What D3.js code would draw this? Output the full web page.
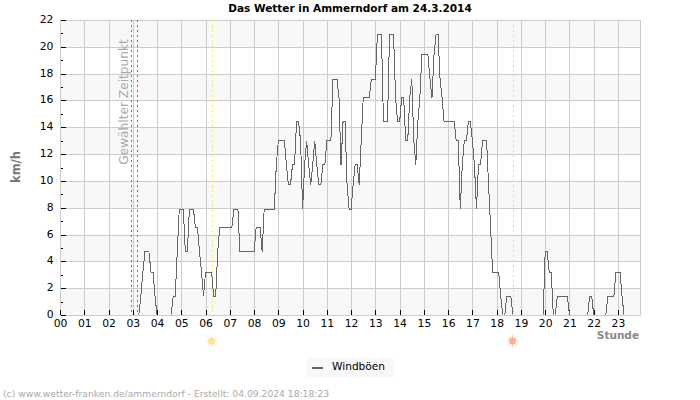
<!DOCTYPE html>
<html><head><meta charset="utf-8">
<script src="https://cdn.jsdelivr.net/npm/d3@7"></script>
<style>html,body{margin:0;background:#fff}svg{display:block}text{font-family:"DejaVu Sans",sans-serif}</style>
</head><body><div id="c"></div>
<script>
const title = "Das Wetter in Ammerndorf am 24.3.2014";
const footer = "(c) www.wetter-franken.de/ammerndorf - Erstellt: 04.09.2024 18:18:23";
const seriesName = "Windböen";
const yLabel = "km/h", xLabel = "Stunde", markerLabel = "Gewählter Zeitpunkt";
const hourLabels = ["00","01","02","03","04","05","06","07","08","09","10","11","12","13","14","15","16","17","18","19","20","21","22","23"];
const yTicks = [0,2,4,6,8,10,12,14,16,18,20,22];
const selectedHours = [2.92, 3.17];
const sunrise = 6.25, sunset = 18.69;
// gust values in 5 minute steps, one row per hour
const h00=[0,0,0,0,0,0,0,0,0,0,0,0], h01=[0,0,0,0,0,0,0,0,0,0,0,0], h02=[0,0,0,0,0,0,0,0,0,0,0,0];
const h03=[0,0,0,0,1.4,3.2,4.7,4.7,4.7,3.2,3.2,1.4];
const h04=[0,0,0,0,0,0,0,0,1.4,1.4,4.7,7.9];
const h05=[7.9,7.9,4.7,4.7,7.9,7.9,7.9,6.5,6.5,4.7,3.2,1.4];
const h06=[3.2,3.2,3.2,3.2,1.4,1.4,4.7,6.5,6.5,6.5,6.5,6.5];
const h07=[6.5,6.5,7.9,7.9,7.9,4.7,4.7,4.7,4.7,4.7,4.7,4.7];
const h08=[4.7,6.5,6.5,6.5,4.7,7.9,7.9,7.9,7.9,7.9,7.9,11.2];
const h09=[13,13,13,13,11.2,9.7,9.7,11.2,11.2,14.4,14.4,13];
const h10=[7.9,11.2,13,11.2,9.7,11.2,13,11.2,9.7,9.7,11.2,11.2];
const h11=[13,13,13,17.6,17.6,17.6,16.2,11.2,14.4,14.4,9.7,7.9];
const h12=[7.9,9.7,11.2,11.2,9.7,13,16.2,16.2,16.2,16.2,17.6,17.6];
const h13=[17.6,20.9,20.9,20.9,14.4,14.4,14.4,20.9,20.9,20.9,16.2,14.4];
const h14=[14.4,16.2,16.2,13,13,16.2,17.6,13,11.2,14.4,16.2,19.4];
const h15=[19.4,19.4,19.4,17.6,16.2,19.4,20.9,20.9,17.6,16.2,14.4,14.4];
const h16=[14.4,14.4,14.4,14.4,13,13,7.9,11.2,13,13,14.4,14.4];
const h17=[13,11.2,7.9,11.2,11.2,13,13,13,9.7,6.5,3.2,3.2];
const h18=[3.2,3.2,1.4,0,0,1.4,1.4,1.4,0,0,0,0];
const h19=[0,0,0,0,0,0,0,0,0,0,0,0];
const h20=[4.7,4.7,3.2,3.2,0,0,1.4,1.4,1.4,1.4,1.4,1.4];
const h21=[0,0,0,0,0,0,0,0,0,0,1.4,1.4];
const h22=[0,0,0,0,0,0,0,1.4,1.4,1.4,1.4,3.2];
const h23=[3.2,3.2,1.4,0,0,0,0,0,0,0,0];
const gusts=[h00,h01,h02,h03,h04,h05,h06,h07,h08,h09,h10,h11,h12,h13,h14,h15,h16,h17,h18,h19,h20,h21,h22,h23].flat();

const W=700,H=400,L=60,R=640,T=20,B=315;
const x=d3.scaleLinear().domain([0,(R-L)/24.26]).range([L,R]);
const y=d3.scaleLinear().domain([0,22]).range([B,T]);
const svg=d3.select("#c").append("svg").attr("width",W).attr("height",H);
svg.append("g").selectAll("rect").data(yTicks.filter((d,i)=>i<yTicks.length-1&&i%2==0)).join("rect")
  .attr("x",L).attr("width",R-L).attr("y",d=>y(d+2)).attr("height",d=>y(d)-y(d+2)).attr("fill","#f8f8f8");
const gc="#cccccc";
svg.append("g").selectAll("line").data(yTicks).join("line")
  .attr("x1",L).attr("x2",R).attr("y1",d=>Math.round(y(d))+.5).attr("y2",d=>Math.round(y(d))+.5).attr("stroke",gc);
svg.append("g").selectAll("line").data(hourLabels).join("line")
  .attr("x1",(d,i)=>Math.round(x(i))+.5).attr("x2",(d,i)=>Math.round(x(i))+.5).attr("y1",T).attr("y2",B).attr("stroke",gc);
svg.append("line").attr("x1",R+.5).attr("x2",R+.5).attr("y1",T).attr("y2",B+.5).attr("stroke",gc);
svg.append("g").selectAll("line").data(hourLabels).join("line")
  .attr("x1",(d,i)=>Math.round(x(i))+.5).attr("x2",(d,i)=>Math.round(x(i))+.5).attr("y1",B-5).attr("y2",B).attr("stroke","#000");
svg.append("g").selectAll("line").data(d3.range(0,23)).join("line")
  .attr("x1",L+1).attr("x2",d=>d%2?L+3:L+6).attr("y1",d=>Math.round(y(d))+.5).attr("y2",d=>Math.round(y(d))+.5).attr("stroke","#000");
svg.append("g").selectAll("line").data(selectedHours).join("line")
  .attr("x1",d=>Math.round(x(d))+.5).attr("x2",d=>Math.round(x(d))+.5).attr("y1",T).attr("y2",B)
  .attr("stroke","#777").attr("stroke-dasharray","2,3");
[[sunrise,"#f7ec5a"],[sunset,"#f3d29a"]].forEach(([h,c])=>{
  svg.append("line").attr("x1",Math.round(x(h))+.5).attr("x2",Math.round(x(h))+.5).attr("y1",T).attr("y2",B)
   .attr("stroke",c).attr("stroke-dasharray","2,3");
});
svg.append("clipPath").attr("id","pc").append("rect").attr("x",L).attr("y",T).attr("width",R-L).attr("height",B-T-.5);
svg.append("path").datum(gusts).attr("clip-path","url(#pc)").attr("fill","none").attr("stroke","#666").attr("stroke-width",1)
  .attr("shape-rendering","crispEdges")
  .attr("d",d3.line().x((d,i)=>x(i/12)).y(d=>y(d)));
svg.append("g").selectAll("text").data(yTicks).join("text").attr("x",L-6.5).attr("y",d=>y(d)+3).attr("text-anchor","end")
  .attr("font-size",10.8).attr("fill","#000").text(d=>d);
svg.append("g").selectAll("text").data(hourLabels).join("text").attr("x",(d,i)=>x(i)+.5).attr("y",327).attr("text-anchor","middle")
  .attr("font-size",10.8).attr("fill","#000").text(d=>d);
svg.append("text").attr("x",350).attr("y",12).attr("text-anchor","middle").attr("font-size",10.5).attr("font-weight","bold").text(title);
svg.append("text").attr("transform","translate(20,167) rotate(-90)").attr("text-anchor","middle").attr("font-size",11.5).attr("font-weight","bold").attr("fill","#777").text(yLabel);
svg.append("text").attr("x",639).attr("y",339).attr("text-anchor","end").attr("font-size",10.5).attr("font-weight","bold").attr("fill","#888").text(xLabel);
svg.append("text").attr("transform",`translate(128,102) rotate(-90)`).attr("text-anchor","middle").attr("font-size",12.2).attr("fill","#aaa").text(markerLabel);
function sun(h,c,rc){
  const g=svg.append("g").attr("transform",`translate(${Math.round(x(h))-.5},341)`);
  g.selectAll("line").data(d3.range(8)).join("line").attr("x1",d=>3*Math.cos(d*Math.PI/4)).attr("y1",d=>3*Math.sin(d*Math.PI/4))
    .attr("x2",d=>6*Math.cos(d*Math.PI/4)).attr("y2",d=>6*Math.sin(d*Math.PI/4)).attr("stroke",rc);
  g.append("circle").attr("r",3.4).attr("fill",c);
}
sun(sunrise,"#fde291","#fde9a9"); sun(sunset,"#fdaf94","#fdc6b2");
svg.append("rect").attr("x",307).attr("y",358).attr("width",87).attr("height",19).attr("fill","#f8f8f8");
svg.append("rect").attr("x",312).attr("y",367).attr("width",11).attr("height",2).attr("fill","#666");
svg.append("text").attr("x",332).attr("y",370).attr("font-size",10.6).text(seriesName);
svg.append("text").attr("x",3).attr("y",397).attr("font-size",9.2).attr("fill","#aaa").text(footer);
</script></body></html>
